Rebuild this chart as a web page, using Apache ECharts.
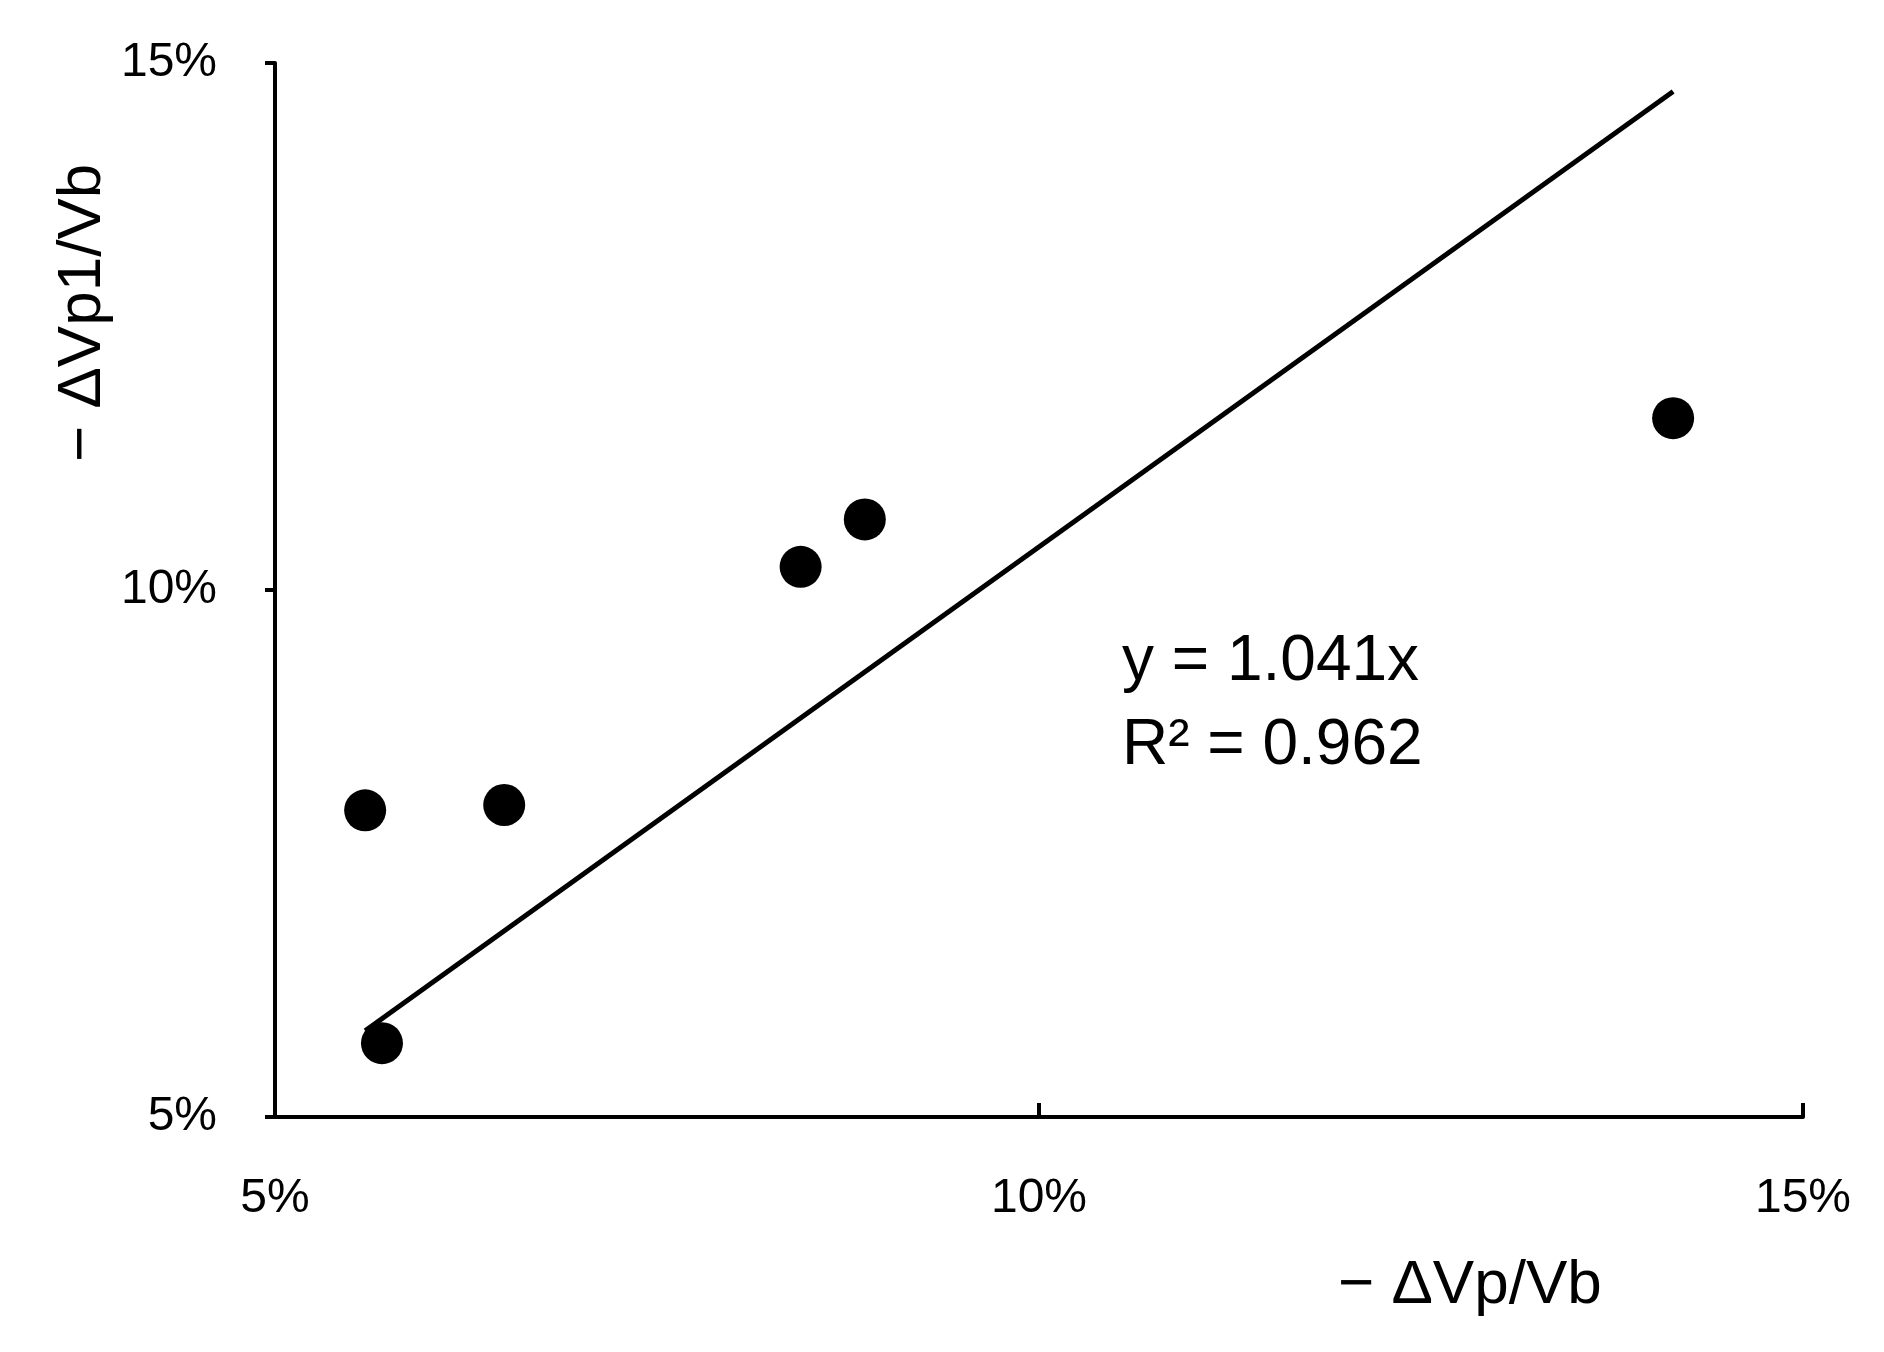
<!DOCTYPE html>
<html>
<head>
<meta charset="utf-8">
<script src="https://cdn.jsdelivr.net/npm/echarts@6/dist/echarts.min.js"></script>
<style>html,body{margin:0;padding:0;background:#fff}#main{width:1884px;height:1352px}</style>
</head>
<body>
<div id="main"></div>
<script>
// measured points, in percent
const xValues = [5.59, 6.50, 8.44, 8.86, 5.70, 14.15];
const yValues = [7.91, 7.96, 10.22, 10.67, 5.70, 11.63];
const slope = 1.041;
const fitRange = [5.59, 14.15];
const axisTicks = [5, 10, 15];

const font = '"Liberation Sans", "DejaVu Sans", sans-serif';
const points = xValues.map((x, i) => [x, yValues[i]]);
const fitLine = fitRange.map(x => [x, slope * x]);

const chart = echarts.init(document.getElementById('main'));
const axisCommon = {
    type: 'value',
    min: axisTicks[0],
    max: axisTicks[axisTicks.length - 1],
    interval: 5,
    splitLine: {show: false},
    axisLine: {show: true, lineStyle: {color: '#000', width: 4}},
    axisTick: {show: true, length: 10, lineStyle: {color: '#000', width: 4}},
    axisLabel: {color: '#000', fontSize: 48, fontFamily: font, formatter: v => v + '%'}
};
chart.setOption({
    animation: false,
    grid: {left: 275, right: 81, top: 63, bottom: 235},
    xAxis: Object.assign({}, axisCommon, {
        axisTick: {show: true, inside: true, length: 14, lineStyle: {color: '#000', width: 4}},
        axisLabel: Object.assign({}, axisCommon.axisLabel, {margin: 58})
    }),
    yAxis: Object.assign({}, axisCommon, {
        axisLabel: Object.assign({}, axisCommon.axisLabel, {margin: 58})
    }),
    graphic: [
        {type: 'text', left: 1338, top: 1255,
         style: {text: '− ΔVp/Vb', font: '62px ' + font, fill: '#000'}},
        {type: 'text', x: 52, y: 462, rotation: Math.PI / 2,
         style: {text: '− ΔVp1/Vb', font: '62px ' + font, fill: '#000', align: 'left', verticalAlign: 'top'},
         originX: 0, originY: 0},
        {type: 'text', left: 1122, top: 630,
         style: {text: 'y = 1.041x', font: '64px ' + font, fill: '#000'}},
        {type: 'text', left: 1122, top: 714,
         style: {text: 'R² = 0.962', font: '64px ' + font, fill: '#000'}}
    ],
    series: [
        {type: 'line', data: fitLine, symbol: 'none', lineStyle: {color: '#000', width: 5}},
        {type: 'scatter', data: points, symbolSize: 42, itemStyle: {color: '#000', opacity: 1}}
    ]
});
</script>
</body>
</html>
